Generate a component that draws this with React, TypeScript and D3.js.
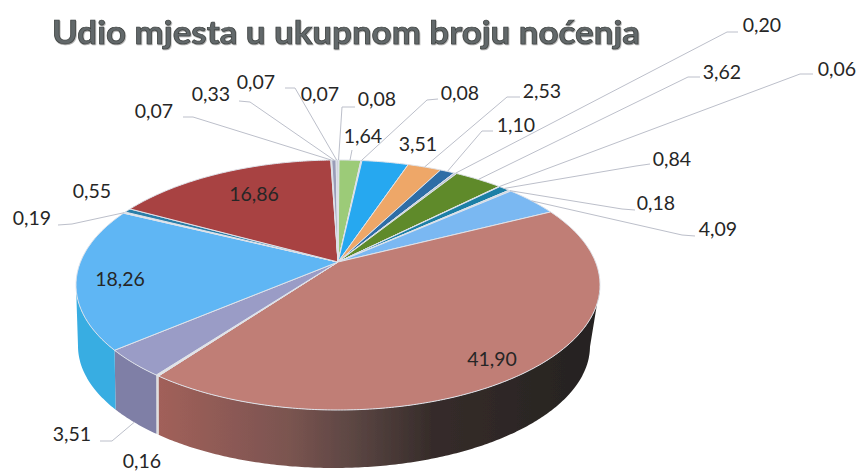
import React from "react";
import * as d3 from "d3";

const WIDTH = 862;
const HEIGHT = 471;

const title = "Udio mjesta u ukupnom broju noćenja";

// Clockwise from the top of the pie
const labels = ["0,08","1,64","0,08","3,51","2,53","1,10","0,20","3,62","0,06","0,84","0,18","4,09","41,90","0,16","3,51","18,26","0,19","0,55","16,86","0,07","0,33","0,07","0,07"];
const values = [0.08,1.64,0.08,3.51,2.53,1.10,0.20,3.62,0.06,0.84,0.18,4.09,41.90,0.16,3.51,18.26,0.19,0.55,16.86,0.07,0.33,0.07,0.07];
const topColors = ["#b9bfd6","#9ccb78","#c9d3e0","#28a8f0","#eea767","#2f6da6","#b8c2d6","#5f8a2a","#8e9ac0","#1b7fa6","#c5d0de","#7ab8f2","#c07e76","#e4e4e4","#9a9cc6","#5fb6f4","#dfe6ee","#2b7ea8","#a84243","#c4c6cf","#9a9db8","#b5b8c8","#8f93ad"];
const sideColors = ["#999","#7aa85e","#aaa","#1f8cc8","#c58850","#255a8a","#999","#4f7322","#778","#156a8a","#aaa","#6098c8","url(#brownSide)","#dedede","#7f7fa6","#38ade2","#ccc","#246a8a","#8a3233","#aaa","#889","#99a","#778"];

// Text anchors (label centre) and leader elbows, by index in the lists above; null = no leader
const labelBoxes: [number, number][] = [[377,98],[363,135],[460,92],[418,143],[542,90],[516,124],[762,24],[722,71],[837,68],[672,158],[656,202],[718,228],[492,358],[142,460],[72,433],[120,278],[32,217],[92,190],[254,193],[154,110],[211,93],[256,81],[320,93]];
const leaderPaths: ([number, number][] | null)[] = [
  [[355,107],[342,107]],[[352,150]],[[438,99],[427,100]],null,[[520,97],[507,97]],[[493,131],[482,131]],
  [[738,32],[727,32]],[[700,77],[688,77]],[[813,74],[800,74]],[[650,164],[636,166]],[[635,210],[622,209]],[[695,236],[682,235]],
  null,null,[[100,441],[112,441]],null,[[58,225],[72,224]],null,null,
  [[183,117],[193,117]],[[239,101],[250,102]],[[285,88],[295,88]],null,
];

const cx = 338, cy = 285, rx = 262, ry = 125;
const baseCx = 334, baseCy = 346, baseRx = 256, baseRy = 122;
const apex: [number, number] = [338, 262];
const foreshorten = 0.81;

const screenAngle = (a: number) => 2 * Math.atan2(foreshorten * Math.sin(a / 2), Math.cos(a / 2));
const rim = (a: number): [number, number] => {
  const s = screenAngle(a);
  return [cx + rx * Math.sin(s), cy - ry * Math.cos(s)];
};
const baseRim = (a: number): [number, number] => {
  const s = screenAngle(a);
  return [baseCx + baseRx * Math.sin(s), baseCy - baseRy * Math.cos(s)];
};
const isFront = (a: number) => Math.cos(screenAngle(a)) <= 0;
const line = d3.line<[number, number]>().x((d) => d[0]).y((d) => d[1]);

const arcs = d3.pie<number>().sort(null).startAngle(0).endAngle(2 * Math.PI)(values);

const samples = (a0: number, a1: number) => {
  const n = Math.max(2, Math.ceil((a1 - a0) / 0.01));
  return d3.range(n + 1).map((i) => a0 + ((a1 - a0) * i) / n);
};

const topPath = (a0: number, a1: number) =>
  (line([apex, ...samples(a0, a1).map(rim)]) ?? "") + "Z";

const sidePath = (a0: number, a1: number) => {
  const front = samples(a0, a1).filter(isFront);
  if (front.length < 2) return null;
  return (line([...front.map(rim), ...front.map(baseRim).reverse()]) ?? "") + "Z";
};

const leaderEnd = (a: number) => (isFront(a) ? baseRim(a) : rim(a));

const font = "Lato, Carlito, 'Open Sans', sans-serif";

export default function App() {
  return (
    <svg width={WIDTH} height={HEIGHT} viewBox={`0 0 ${WIDTH} ${HEIGHT}`}
      style={{ position: "absolute", left: 0, top: 0, background: "#fff" }}>
      <defs>
        <linearGradient id="brownSide" gradientUnits="userSpaceOnUse" x1="157" x2="600" y1="0" y2="0">
          <stop offset="0" stopColor="#a2605a" />
          <stop offset="0.3" stopColor="#7a5450" />
          <stop offset="0.45" stopColor="#5a4542" />
          <stop offset="0.62" stopColor="#362c2a" />
          <stop offset="1" stopColor="#242220" />
        </linearGradient>
        <filter id="soft" x="-5%" y="-5%" width="110%" height="110%">
          <feGaussianBlur stdDeviation="0.45" />
        </filter>
        <filter id="titleShadow" x="-5%" y="-30%" width="110%" height="160%">
          <feDropShadow dx="0.6" dy="1" stdDeviation="0.7" floodColor="#888" floodOpacity="0.8" />
        </filter>
      </defs>
      <g filter="url(#soft)">
        {arcs.map((d, i) => {
          const p = sidePath(d.startAngle, d.endAngle);
          return p ? <path key={i} d={p} fill={sideColors[i]} /> : null;
        })}
        {arcs.map((d, i) => (
          <path key={i} d={topPath(d.startAngle, d.endAngle)} fill={topColors[i]} stroke="#dfe3ea" strokeWidth={1} strokeLinejoin="round" />
        ))}
      </g>
      <g fill="none" stroke="#bcbfca" strokeWidth={1}>
        {arcs.map((d, i) => {
          const elbows = leaderPaths[i];
          if (!elbows) return null;
          const pts = [...elbows, leaderEnd((d.startAngle + d.endAngle) / 2)] as [number, number][];
          return <path key={i} d={line(pts) ?? ""} />;
        })}
      </g>
      <g fontFamily={font} fontSize={19.5} fill="#262626" textAnchor="middle" dominantBaseline="central">
        {labels.map((t, i) => (
          <text key={i} x={labelBoxes[i][0]} y={labelBoxes[i][1]}>{t}</text>
        ))}
      </g>
      <text x={52} y={44} fontFamily={font} fontWeight={700} fontSize={32} fill="#62686a"
        stroke="#3a3e3c" strokeWidth={0.7} textLength={588} lengthAdjust="spacingAndGlyphs"
        filter="url(#titleShadow)">{title}</text>
    </svg>
  );
}
